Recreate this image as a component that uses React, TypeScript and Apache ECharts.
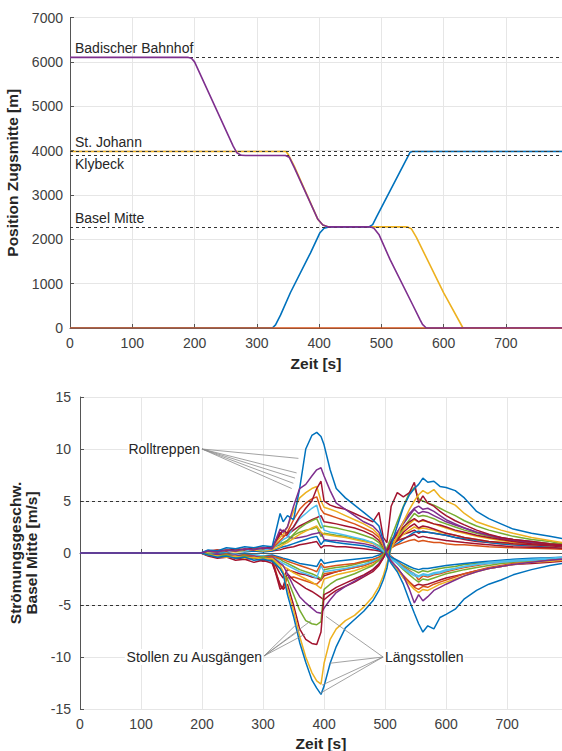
import React, { useEffect, useRef } from 'react';
import * as echarts from 'echarts';

const BLUE = '#0072BD', ORANGE = '#D95319', YELLOW = '#EDB120', PURPLE = '#7E2F8E', GREEN = '#77AC30', CYAN = '#4DBEEE', RED = '#A2142F';
const FONT = '"Liberation Sans", Arial, Helvetica, sans-serif';

// ---------- top chart: train positions [t (s), position (m)] ----------
const trainOrange = [[0, 0], [790, 0]];
const trainYellow = [[0, 3980], [347, 3980], [351, 3900], [360, 3650], [398, 2450], [406, 2320], [414, 2280], [541, 2280], [548, 2240], [556, 2050], [600, 790], [606, 640], [631, 0], [790, 0]];
const trainBlue = [[0, 0], [325, 0], [330, 70], [338, 290], [354, 800], [386, 1690], [401, 2140], [408, 2250], [416, 2280], [480, 2280], [486, 2330], [492, 2500], [546, 3960], [550, 3980], [790, 3980]];
const trainPurple = [[0, 6100], [190, 6100], [195, 6080], [200, 6000], [262, 4100], [268, 3950], [275, 3893], [282, 3890], [346, 3890], [352, 3850], [360, 3620], [398, 2450], [406, 2320], [414, 2280], [482, 2280], [488, 2250], [496, 2110], [514, 1540], [550, 530], [562, 190], [566, 80], [572, 0], [790, 0]];

const stationNames = ['Badischer Bahnhof', 'St. Johann', 'Klybeck', 'Basel Mitte', 'Südportal'];
const stationPos = [6100, 3980, 3890, 2280, 0];

// ---------- bottom chart: flow velocity at Basel Mitte ----------
const tGrid = [0, 198, 210, 225, 240, 255, 270, 285, 300, 315,
  328, 333, 340, 350, 360, 370, 380, 388, 395, 400,
  410, 420, 435, 450, 465, 480, 490, 497, 503, 510,
  520, 530, 540, 548, 555, 562, 570, 580, 590, 600,
  615, 630, 650, 670, 690, 710, 740, 770, 790];

const s01 = [0, 0, 0.3, 0.2, 0.5, 0.4, 0.6, 0.5, 0.7, 0.6,
  3.8, 3.0, 3.6, 3.2, 6.2, 10.0, 11.3, 11.6, 11.2, 10.4,
  8.0, 6.2, 5.3, 4.6, 3.9, 3.2, 2.6, 1.2, -0.3, -1.0,
  -1.8, -3.0, -4.6, -5.8, -6.8, -7.6, -7.0, -7.3, -6.2, -5.9,
  -5.4, -4.4, -3.6, -3.0, -2.6, -2.1, -1.6, -1.2, -1.0];
const s02 = [0, 0, -0.2, -0.4, -0.3, -0.5, -0.4, -0.7, -0.6, -0.8,
  -1.5, -2.0, -4.0, -6.1, -8.6, -10.5, -12.2, -13.0, -13.6, -12.8,
  -10.6, -9.0, -7.2, -6.4, -5.6, -4.6, -3.6, -2.6, -1.5, 0.8,
  2.6, 4.4, 5.6, 6.2, 6.6, 7.2, 6.8, 6.9, 6.4, 6.3,
  6.0, 5.3, 4.0, 3.3, 2.8, 2.3, 1.9, 1.6, 1.4];
const s03 = [0, 0, -0.2, -0.3, -0.4, -0.3, -0.5, -0.4, -0.6, -0.5,
  -1.2, -1.8, -3.5, -5.5, -8.0, -10.0, -11.5, -12.3, -12.6, -10.6,
  -8.3, -7.3, -6.5, -6.0, -5.2, -4.2, -3.2, -2.2, -1.0, 0.4,
  1.6, 3.0, 4.2, 5.0, 5.6, 6.0, 5.7, 6.1, 5.4, 5.0,
  4.6, 3.8, 3.0, 2.6, 2.2, 1.9, 1.5, 1.2, 1.0];
const s04 = [0, 0, 0.2, 0.1, 0.3, 0.2, 0.4, 0.3, 0.5, 0.4,
  2.3, 2.0, 2.5, 4.5, 6.2, 6.6, 7.4, 8.0, 8.2, 7.4,
  6.0, 4.8, 4.2, 3.6, 3.0, 2.6, 2.0, 1.0, 0, -0.8,
  -1.4, -2.2, -3.5, -4.8, -4.0, -4.6, -4.2, -3.6, -3.3, -3.0,
  -2.6, -2.2, -1.8, -1.5, -1.3, -1.1, -0.9, -0.7, -0.6];
const s05 = [0, 0, 0.2, 0.3, 0.2, 0.4, 0.3, 0.5, 0.4, 0.6,
  1.8, 2.2, 1.9, 2.5, 3.5, 4.3, 5.0, 6.2, 6.9, 5.0,
  4.6, 4.4, 4.2, 3.8, 3.4, 3.0, 3.9, 1.5, 1.0, 4.5,
  5.8, 5.4, 5.8, 6.8, 4.8, 5.5, 4.8, 4.5, 4.0, 3.6,
  3.1, 2.7, 2.2, 1.8, 1.5, 1.3, 1.1, 0.9, 0.8];
const s06 = [0, 0, -0.3, -0.5, -0.4, -0.7, -0.6, -0.9, -0.7, -1.0,
  -3.0, -3.5, -3.0, -5.0, -7.3, -8.3, -8.7, -8.8, -7.6, -4.0,
  -3.7, -3.3, -2.9, -2.5, -2.1, -1.6, -1.1, -0.5, 0.3, 1.0,
  1.8, 2.5, 3.0, 3.3, 3.0, 3.2, 3.0, 2.8, 2.7, 2.5,
  2.2, 2.0, 1.7, 1.5, 1.3, 1.1, 0.9, 0.8, 0.7];
const s07 = [0, 0, -0.1, -0.3, -0.2, -0.4, -0.3, -0.5, -0.4, -0.6,
  -1.5, -2.0, -2.5, -4.0, -5.5, -6.5, -6.8, -6.9, -6.6, -3.5,
  -3.0, -2.6, -2.3, -2.0, -1.6, -1.2, -0.7, -0.2, 0.5, 1.5,
  3.0, 4.5, 5.8, 6.3, 5.2, 5.0, 4.8, 4.6, 4.3, 4.0,
  3.6, 3.1, 2.6, 2.2, 1.9, 1.6, 1.3, 1.1, 0.9];
const s08 = [0, 0, -0.2, -0.1, -0.3, -0.2, -0.4, -0.3, -0.5, -0.4,
  -1.0, -1.2, -2.0, -3.2, -4.2, -4.8, -5.3, -5.7, -5.8, -5.3,
  -4.5, -3.8, -3.2, -2.7, -2.2, -1.6, -1.0, -0.3, 0.3, 1.0,
  2.0, 3.0, 3.8, 4.3, 4.5, 4.2, 4.3, 4.0, 3.6, 3.2,
  2.8, 2.4, 2.0, 1.7, 1.4, 1.2, 1.0, 0.8, 0.7];
const s09 = [0, 0, -0.2, -0.4, -0.3, -0.5, -0.6, -0.5, -0.8, -0.7,
  -3.5, -3.2, -2.0, -2.6, -3.0, -3.4, -3.7, -4.0, -4.3, -4.5,
  -4.0, -3.6, -3.2, -2.8, -2.3, -1.8, -1.2, -0.5, 0.2, 0.6,
  1.2, 2.0, 2.5, 2.8, 2.4, 2.6, 2.5, 2.3, 2.1, 1.9,
  1.7, 1.5, 1.3, 1.1, 1.0, 0.9, 0.8, 0.7, 0.6];
const s10 = [0, 0, 0.1, 0.3, 0.2, 0.4, 0.3, 0.5, 0.4, 0.6,
  1.5, 1.8, 2.5, 4.0, 5.3, 5.8, 6.2, 6.4, 5.0, 4.4,
  4.2, 4.0, 3.6, 3.2, 2.8, 2.3, 1.7, 0.8, 0, -0.8,
  -1.6, -2.4, -3.0, -3.5, -3.8, -3.5, -3.6, -3.3, -3.0, -2.8,
  -2.5, -2.2, -1.8, -1.5, -1.3, -1.1, -0.9, -0.8, -0.7];
const s11 = [0, 0, 0.2, 0.1, 0.3, 0.2, 0.4, 0.3, 0.5, 0.4,
  1.2, 1.5, 2.0, 3.2, 4.2, 4.8, 5.2, 5.4, 4.2, 3.8,
  3.6, 3.4, 3.1, 2.8, 2.4, 2.0, 1.5, 0.7, -0.2, -0.8,
  -1.5, -2.2, -2.8, -3.3, -3.5, -3.2, -3.3, -3.0, -2.8, -2.6,
  -2.3, -2.0, -1.7, -1.4, -1.2, -1.0, -0.9, -0.7, -0.6];
const s12 = [0, 0, 0.1, 0.2, 0.1, 0.3, 0.2, 0.4, 0.3, 0.4,
  1.0, 1.3, 1.5, 2.5, 3.3, 3.8, 4.3, 4.6, 3.0, 2.2,
  2.0, 1.9, 1.7, 1.5, 1.3, 1.0, 0.6, 0.2, -0.2, -0.6,
  -1.0, -1.5, -1.9, -2.2, -2.3, -2.1, -2.2, -2.0, -1.9, -1.7,
  -1.5, -1.3, -1.1, -0.9, -0.8, -0.7, -0.6, -0.5, -0.4];
const s13 = [0, 0, 0.1, 0.2, 0.3, 0.2, 0.3, 0.4, 0.3, 0.5,
  0.8, 1.0, 1.2, 1.8, 2.4, 2.8, 3.1, 3.3, 2.4, 2.6,
  2.5, 2.4, 2.2, 2.0, 1.7, 1.4, 1.0, 0.4, -0.2, 0.5,
  1.5, 2.4, 3.2, 3.8, 3.5, 3.6, 3.5, 3.3, 3.0, 2.8,
  2.5, 2.2, 1.9, 1.6, 1.4, 1.2, 1.0, 0.9, 0.8];
const s14 = [0, 0, 0.1, 0.1, 0.2, 0.1, 0.2, 0.3, 0.2, 0.3,
  0.6, 0.8, 1.0, 1.4, 1.8, 2.1, 2.4, 2.6, 2.0, 1.8,
  1.7, 1.6, 1.5, 1.3, 1.1, 0.9, 0.6, 0.2, 0, 0.6,
  1.2, 1.8, 2.2, 2.5, 2.3, 2.4, 2.3, 2.2, 2.0, 1.9,
  1.7, 1.5, 1.3, 1.1, 1.0, 0.9, 0.8, 0.7, 0.6];
const s15 = [0, 0, 0.1, 0, 0.1, 0.2, 0.1, 0.2, 0.1, 0.2,
  0.5, 0.6, 0.7, 0.9, 1.1, 1.3, 1.5, 1.6, 0.8, 1.2,
  1.1, 1.0, 0.9, 0.8, 0.7, 0.5, 0.3, 0.1, -0.1, -0.4,
  -0.7, -1.0, -1.3, -1.5, -1.6, -1.5, -1.5, -1.4, -1.3, -1.2,
  -1.1, -1.0, -0.9, -0.8, -0.7, -0.6, -0.5, -0.45, -0.4];
const s16 = [0, 0, 0.1, 0.2, 0.1, 0.2, 0.3, 0.2, 0.3, 0.2,
  0.3, 0.4, 0.5, 0.6, 0.8, 0.9, 1.0, 1.1, 0.5, 0.7,
  0.7, 0.6, 0.6, 0.5, 0.4, 0.3, 0.2, 0, 0.3, 0.8,
  1.2, 1.4, 1.6, 1.8, 1.5, 1.6, 1.5, 1.4, 1.3, 1.2,
  1.1, 1.0, 0.9, 0.8, 0.7, 0.6, 0.55, 0.5, 0.45];
const s17 = [0, 0, -0.1, -0.2, -0.1, -0.3, -0.2, -0.3, -0.4, -0.3,
  -0.5, -0.6, -0.8, -1.0, -1.2, -1.4, -1.6, -1.8, -1.0, -1.4,
  -1.3, -1.2, -1.1, -1.0, -0.8, -0.6, -0.4, -0.1, 0.2, 0.5,
  0.8, 1.0, 1.2, 1.3, 1.1, 1.2, 1.1, 1.0, 1.0, 0.9,
  0.8, 0.8, 0.7, 0.6, 0.55, 0.5, 0.45, 0.4, 0.35];
const s18 = [0, 0, -0.1, -0.1, -0.2, -0.1, -0.3, -0.2, -0.3, -0.4,
  -0.8, -1.0, -1.2, -1.5, -1.8, -2.0, -2.2, -2.4, -1.2, -1.8,
  -1.7, -1.6, -1.5, -1.3, -1.1, -0.8, -0.5, -0.1, 0.2, -0.4,
  -0.9, -1.4, -1.8, -2.0, -2.2, -2.0, -2.1, -1.9, -1.8, -1.6,
  -1.5, -1.3, -1.1, -1.0, -0.9, -0.8, -0.7, -0.6, -0.5];
const s19 = [0, 0, -0.1, -0.2, -0.3, -0.2, -0.4, -0.3, -0.5, -0.4,
  -1.0, -1.3, -1.5, -1.9, -2.2, -2.5, -2.8, -3.1, -3.4, -2.5,
  -2.3, -2.1, -1.9, -1.7, -1.4, -1.1, -0.7, -0.2, 0.3, 0.8,
  1.5, 2.2, 2.8, 3.2, 3.0, 3.1, 3.0, 2.8, 2.6, 2.4,
  2.1, 1.9, 1.6, 1.4, 1.2, 1.0, 0.9, 0.8, 0.7];
const s20 = [0, 0, -0.1, -0.1, -0.2, -0.3, -0.2, -0.4, -0.3, -0.4,
  -0.6, -0.8, -1.0, -1.3, -1.6, -1.8, -2.0, -2.2, -2.5, -1.6,
  -1.5, -1.4, -1.3, -1.1, -0.9, -0.7, -0.4, -0.1, 0.1, -0.5,
  -1.0, -1.6, -2.1, -2.5, -2.8, -2.5, -2.6, -2.4, -2.2, -2.0,
  -1.8, -1.6, -1.4, -1.2, -1.0, -0.9, -0.8, -0.7, -0.6];
const s21 = [0, 0, 0.2, 0.1, 0.3, 0.4, 0.3, 0.5, 0.4, 0.5,
  2.0, 1.6, 1.8, 2.2, 2.6, 2.9, 3.2, 3.4, 3.6, 3.0,
  2.9, 2.8, 2.6, 2.4, 2.1, 1.7, 1.2, 0.5, -0.2, -0.8,
  -1.5, -2.2, -2.8, -3.2, -3.0, -3.1, -3.0, -2.8, -2.6, -2.4,
  -2.2, -2.0, -1.7, -1.5, -1.3, -1.1, -1.0, -0.9, -0.8];
const s22 = [0, 0, 0.1, 0.2, 0.1, 0.3, 0.2, 0.3, 0.4, 0.3,
  1.8, 2.2, 1.6, 1.4, 1.5, 1.6, 1.8, 1.9, 2.0, 1.3,
  1.2, 1.2, 1.1, 1.0, 0.9, 0.7, 0.4, 0.1, 0.4, 1.2,
  2.0, 2.8, 3.6, 4.2, 3.8, 4.0, 3.9, 3.6, 3.3, 3.0,
  2.7, 2.4, 2.0, 1.7, 1.5, 1.3, 1.1, 0.9, 0.8];
const s23 = [0, 0, -0.2, -0.3, -0.2, -0.4, -0.5, -0.4, -0.6, -0.5,
  -3.2, -3.4, -2.4, -2.3, -2.5, -2.7, -2.9, -3.0, -2.6, -2.0,
  -1.9, -1.8, -1.6, -1.4, -1.2, -0.9, -0.6, -0.2, 0.2, -0.3,
  -0.8, -1.3, -1.7, -2.0, -2.6, -2.2, -2.3, -2.1, -2.0, -1.8,
  -1.6, -1.4, -1.2, -1.0, -0.9, -0.8, -0.7, -0.6, -0.5];
const s24 = [0, 0, 0.1, 0.2, 0.2, 0.3, 0.3, 0.4, 0.4, 0.5,
  1.0, 0.9, 1.2, 1.7, 2.0, 2.2, 2.3, 2.5, 1.6, 1.9,
  1.8, 1.7, 1.6, 1.4, 1.2, 1.0, 0.7, 0.3, -0.1, -0.5,
  -0.9, -1.2, -1.5, -1.7, -1.9, -1.7, -1.8, -1.6, -1.5, -1.4,
  -1.3, -1.1, -1.0, -0.9, -0.8, -0.7, -0.6, -0.5, -0.45];
const s25 = [0, 0, -0.1, 0, -0.1, -0.2, -0.1, -0.2, -0.3, -0.2,
  -0.4, -0.5, -0.6, -0.8, -1.0, -1.1, -1.2, -1.3, -0.6, -1.0,
  -0.9, -0.8, -0.7, -0.6, -0.5, -0.4, -0.2, 0, 0.2, 0.5,
  0.9, 1.3, 1.7, 2.0, 2.1, 2.0, 2.0, 1.9, 1.8, 1.7,
  1.5, 1.4, 1.2, 1.0, 0.9, 0.8, 0.7, 0.6, 0.55];
const s26 = [0, 0, -0.2, -0.1, -0.3, -0.2, -0.4, -0.5, -0.4, -0.6,
  -2.0, -2.4, -1.6, -1.8, -2.0, -2.1, -2.3, -2.4, -2.6, -2.2,
  -2.0, -1.8, -1.6, -1.4, -1.2, -0.9, -0.6, -0.2, 0.2, 0.8,
  1.4, 1.8, 2.0, 2.2, 1.9, 2.1, 2.0, 1.9, 1.8, 1.7,
  1.5, 1.3, 1.1, 1.0, 0.9, 0.8, 0.7, 0.6, 0.5];

// drawn in this order (inner lines first, envelope lines last)
const flowLines = [
  { v: s26, c: RED }, { v: s25, c: BLUE }, { v: s24, c: GREEN }, { v: s23, c: ORANGE },
  { v: s22, c: PURPLE }, { v: s21, c: RED }, { v: s20, c: GREEN }, { v: s19, c: YELLOW },
  { v: s18, c: CYAN }, { v: s17, c: ORANGE }, { v: s16, c: RED }, { v: s15, c: BLUE },
  { v: s14, c: YELLOW }, { v: s13, c: GREEN }, { v: s12, c: CYAN }, { v: s11, c: ORANGE },
  { v: s10, c: YELLOW }, { v: s09, c: RED }, { v: s08, c: PURPLE }, { v: s07, c: GREEN },
  { v: s06, c: RED }, { v: s05, c: RED }, { v: s03, c: YELLOW },
  { v: s02, c: BLUE }, { v: s01, c: BLUE }, { v: s04, c: PURPLE },
];

// annotation leader lines (data coordinates)
const rolltreppenFrom = [200, 10.0];
const rolltreppenTo = [[358, 9.1], [355, 7.7], [352.5, 7.2], [349.7, 6.7], [347, 6.2]];
const stollenFrom = [301.6, -9.9];
const stollenTo = [[354, -6.9], [360.7, -7.4], [369, -7.8], [378.7, -6.5]];
const laengsFrom = [496.7, -10.0];
const laengsTo = [[403.3, -6.1], [409.8, -10.6], [396.7, -12.7], [393.4, -13.5]];

const axisCommon = {
  axisLine: { show: true, lineStyle: { color: '#555', width: 1 } },
  axisTick: { show: true, inside: true, length: 4, lineStyle: { color: '#555' } },
  axisLabel: { color: '#404040', fontSize: 14, fontFamily: FONT, formatter: (v: number) => String(v) },
  splitLine: { show: true, lineStyle: { color: '#e6e6e6', width: 1 } },
  nameTextStyle: { color: '#262626', fontSize: 15.5, fontWeight: 'bold', fontFamily: FONT },
};

const annText = (text: string, x: number, y: number, align: string) => ({
  type: 'text', x, y, silent: true, z: 100,
  style: { text, fill: '#262626', fontSize: 14, fontFamily: FONT, align, verticalAlign: 'middle', backgroundColor: '#fff', padding: [1, 1] },
});

export default function App() {
  const ref = useRef<HTMLDivElement>(null);
  useEffect(() => {
    if (!ref.current) return;
    const chart = echarts.init(ref.current, undefined, { renderer: 'svg' });
    const leader = (from: number[], tos: number[][]) =>
      tos.map((to) => [
        { coord: from, lineStyle: { color: '#8a8a8a', width: 0.8, type: 'solid' } },
        { coord: to },
      ]);
    const topLine = (data: number[][], color: string, z: number, extra: any = {}) => ({
      type: 'line', xAxisIndex: 0, yAxisIndex: 0, data, showSymbol: false, symbol: 'none',
      lineStyle: { color, width: 1.6 }, itemStyle: { color }, z, silent: true, ...extra,
    });
    const series: any[] = [
      topLine(trainYellow, YELLOW, 2),
      topLine(trainBlue, BLUE, 3),
      topLine(trainOrange, ORANGE, 4),
      topLine(trainPurple, PURPLE, 5, {
        markLine: {
          silent: true, symbol: ['none', 'none'], animation: false,
          lineStyle: { color: '#333', type: [3, 3], width: 1 },
          label: { show: true, color: '#262626', fontSize: 14, fontFamily: FONT, distance: [5, 2] },
          data: stationNames.map((n, i) => ({
            yAxis: stationPos[i],
            label: { formatter: n, position: n === 'Klybeck' ? 'insideStartBottom' : 'insideStartTop' },
            lineStyle: n === 'Südportal' ? { opacity: 0 } : { color: '#333', type: [3, 3], width: 1 },
          })),
        },
      }),
    ];
    flowLines.forEach((l, idx) => {
      const s: any = {
        type: 'line', xAxisIndex: 1, yAxisIndex: 1, showSymbol: false, symbol: 'none', silent: true,
        data: tGrid.map((t, i) => [t, l.v[i]]),
        lineStyle: { color: l.c, width: 1.5 }, itemStyle: { color: l.c }, z: 2,
      };
      if (idx === flowLines.length - 1) {
        s.markLine = {
          silent: true, symbol: ['none', 'none'], animation: false, label: { show: false },
          data: [
            { yAxis: 5, lineStyle: { color: '#333', type: [3, 3], width: 1 } },
            { yAxis: -5, lineStyle: { color: '#333', type: [3, 3], width: 1 } },
            ...leader(rolltreppenFrom, rolltreppenTo),
            ...leader(stollenFrom, stollenTo),
            ...leader(laengsFrom, laengsTo),
          ],
        };
      }
      series.push(s);
    });

    chart.setOption({
      animation: false,
      grid: [
        { left: 70, top: 17.5, width: 492, height: 310.5, outerBoundsMode: 'none', containLabel: false },
        { left: 80, top: 397, width: 482, height: 312, outerBoundsMode: 'none', containLabel: false },
      ],
      xAxis: [
        { ...axisCommon, type: 'value', gridIndex: 0, min: 0, max: 790, interval: 100,
          axisLabel: { ...axisCommon.axisLabel, margin: 8, showMaxLabel: false },
          name: 'Zeit [s]', nameLocation: 'middle', nameGap: 27 },
        { ...axisCommon, type: 'value', gridIndex: 1, min: 0, max: 790, interval: 100,
          axisLabel: { ...axisCommon.axisLabel, margin: 8, showMaxLabel: false },
          name: 'Zeit [s]', nameLocation: 'middle', nameGap: 26 },
      ],
      yAxis: [
        { ...axisCommon, type: 'value', gridIndex: 0, min: 0, max: 7000, interval: 1000,
          axisLabel: { ...axisCommon.axisLabel, margin: 7 },
          name: 'Position Zugsmitte [m]', nameLocation: 'middle', nameGap: 41 },
        { ...axisCommon, type: 'value', gridIndex: 1, min: -15, max: 15, interval: 5,
          axisLabel: { ...axisCommon.axisLabel, margin: 9 },
          name: 'Strömungsgeschw.\nBasel Mitte [m/s]', nameLocation: 'middle', nameGap: 38,
          nameTextStyle: { ...axisCommon.nameTextStyle, lineHeight: 16 } },
      ],
      graphic: [
        annText('Rolltreppen', 201, 449, 'right'),
        annText('Stollen zu Ausgängen', 263, 657, 'right'),
        annText('Längsstollen', 384, 657, 'left'),
      ],
      series,
    });
    return () => chart.dispose();
  }, []);
  return <div ref={ref} style={{ position: 'absolute', left: 0, top: 0, width: 562, height: 751, background: '#fff' }} />;
}
